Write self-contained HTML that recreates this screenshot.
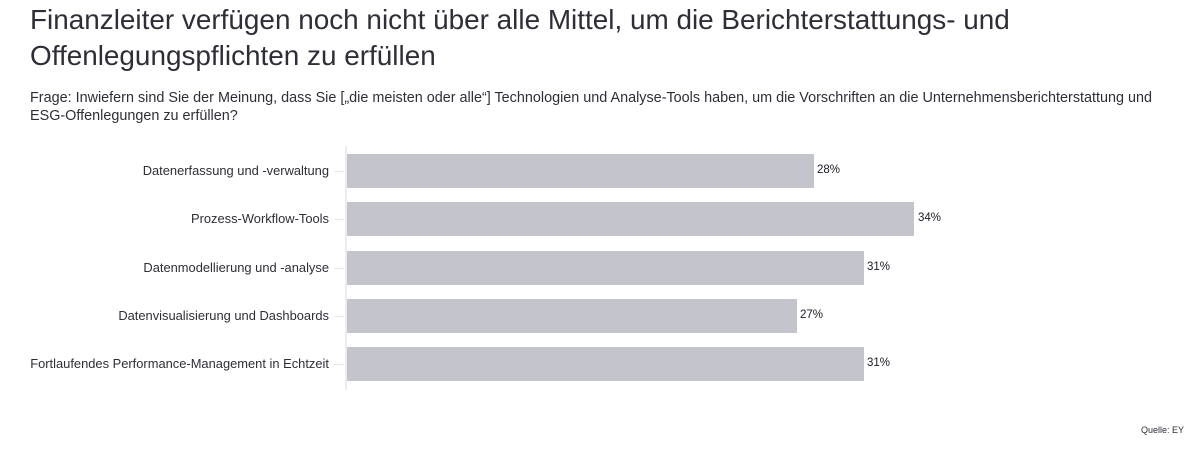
<!DOCTYPE html>
<html><head><meta charset="utf-8"><style>
body{margin:0;width:1193px;height:469px;background:#fff;font-family:"Liberation Sans",sans-serif;color:#2e2e38;position:relative;overflow:hidden}
h1{position:absolute;left:30px;top:2px;margin:0;font-weight:normal;font-size:27.9px;line-height:36px;color:#2e2e38}
.q{position:absolute;left:30px;top:89px;width:1150px;font-size:14.4px;line-height:18px;color:#2e2e38}
.lab{position:absolute;right:864px;font-size:12.9px;color:#2e2e38;text-align:right;white-space:nowrap}
.bar{position:absolute;left:347px;height:34px;background:#c4c4cc}
.v{position:absolute;font-size:11.5px;color:#1a1a24}
.tick{position:absolute;left:334px;width:10px;height:1px;background:#e8e8ea}
.src{position:absolute;right:9px;top:425px;font-size:9px;color:#2e2e38}
</style></head><body>
<h1>Finanzleiter verfügen noch nicht über alle Mittel, um die Berichterstattungs- und<br>Offenlegungspflichten zu erfüllen</h1>
<div class="q">Frage: Inwiefern sind Sie der Meinung, dass Sie [„die meisten oder alle“] Technologien und Analyse-Tools haben, um die Vorschriften an die Unternehmensberichterstattung und<br>ESG-Offenlegungen zu erfüllen?</div>
<div style="position:absolute;left:345px;top:146px;width:2px;height:244px;background:#ececee"></div>

<div class="tick" style="top:171px"></div><div class="lab" style="top:163px">Datenerfassung und -verwaltung</div>
<div class="bar" style="top:154px;width:467px"></div><div class="v" style="left:817px;top:164px">28%</div>

<div class="tick" style="top:219px"></div><div class="lab" style="top:211px">Prozess-Workflow-Tools</div>
<div class="bar" style="top:202px;width:567px"></div><div class="v" style="left:918px;top:212px">34%</div>

<div class="tick" style="top:268px"></div><div class="lab" style="top:260px">Datenmodellierung und -analyse</div>
<div class="bar" style="top:251px;width:517px"></div><div class="v" style="left:867px;top:261px">31%</div>

<div class="tick" style="top:316px"></div><div class="lab" style="top:308px">Datenvisualisierung und Dashboards</div>
<div class="bar" style="top:299px;width:450px"></div><div class="v" style="left:800px;top:309px">27%</div>

<div class="tick" style="top:364px"></div><div class="lab" style="top:356px">Fortlaufendes Performance-Management in Echtzeit</div>
<div class="bar" style="top:347px;width:517px"></div><div class="v" style="left:867px;top:357px">31%</div>

<div class="src">Quelle: EY</div>
</body></html>
